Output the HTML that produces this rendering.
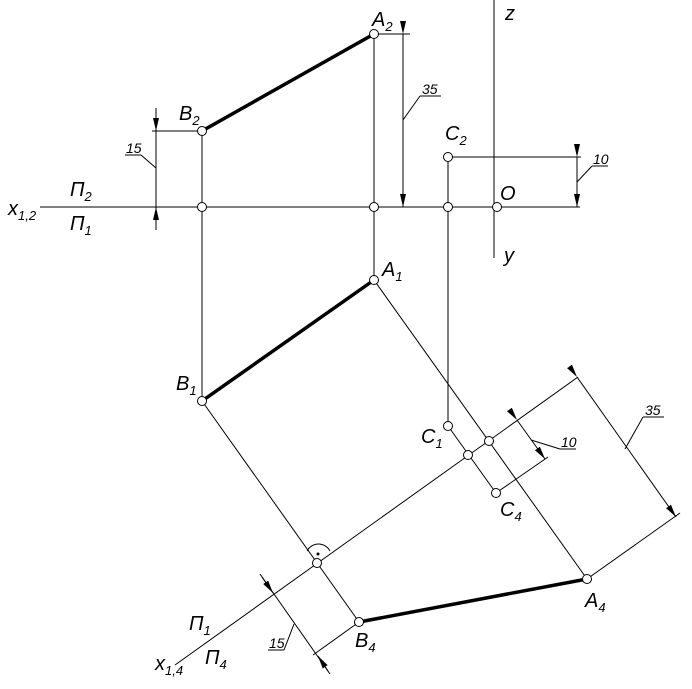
<!DOCTYPE html>
<html><head><meta charset="utf-8"><style>
html,body{margin:0;padding:0;background:#fff;}
svg{display:block;}
text{font-family:"Liberation Sans",sans-serif;font-style:italic;fill:#000;}
.l{font-size:20px;}
.s{font-size:13px;}
.d{font-size:14px;}
</style></head><body>
<svg width="692" height="689" viewBox="0 0 692 689" xmlns="http://www.w3.org/2000/svg">
<defs><marker id="a" markerWidth="13" markerHeight="6" refX="13" refY="3" orient="auto" markerUnits="userSpaceOnUse"><path d="M0,0 L13,3 L0,6 z" fill="#000"/></marker></defs>
<g stroke="#000" stroke-width="1" fill="none">
<line x1="40" y1="207" x2="580" y2="207"/>
<line x1="494" y1="0" x2="494" y2="258"/>
<line x1="202" y1="131" x2="202" y2="401"/>
<line x1="374" y1="34" x2="374" y2="280"/>
<line x1="448" y1="157" x2="448" y2="426"/>
<line x1="374" y1="34" x2="410" y2="34"/>
<line x1="152" y1="131" x2="202" y2="131"/>
<line x1="448" y1="157" x2="581" y2="157"/>
<line x1="403" y1="34" x2="403" y2="207" marker-start="url(#a)" marker-end="url(#a)"/>
<line x1="403" y1="120" x2="420" y2="96"/><line x1="420" y1="96" x2="441" y2="96"/>
<line x1="156" y1="108" x2="156" y2="131" marker-end="url(#a)"/>
<line x1="156" y1="230" x2="156" y2="207" marker-end="url(#a)"/>
<line x1="156" y1="131" x2="156" y2="207"/>
<line x1="156" y1="168" x2="141" y2="155"/><line x1="125" y1="155" x2="141" y2="155"/>
<line x1="577" y1="157" x2="577" y2="207" marker-start="url(#a)" marker-end="url(#a)"/>
<line x1="577" y1="182" x2="592" y2="166"/><line x1="592" y1="166" x2="608" y2="166"/>
<line x1="175" y1="665" x2="578" y2="377"/>
<line x1="202" y1="401" x2="359" y2="622"/>
<line x1="374" y1="280" x2="587" y2="579"/>
<line x1="448" y1="426" x2="496" y2="493"/>
<line x1="359" y1="622" x2="313" y2="655"/>
<line x1="496" y1="493" x2="548" y2="457"/>
<line x1="587" y1="579" x2="680" y2="513"/>
<line x1="260" y1="574" x2="330" y2="674"/>
<line x1="262" y1="577" x2="273" y2="593" marker-end="url(#a)"/>
<line x1="328" y1="671" x2="318" y2="656" marker-end="url(#a)"/>
<line x1="294" y1="624" x2="284" y2="650"/><line x1="268" y1="650" x2="284" y2="650"/>
<line x1="517" y1="420" x2="545" y2="459" marker-start="url(#a)" marker-end="url(#a)"/>
<line x1="531" y1="440" x2="560" y2="449"/><line x1="560" y1="449" x2="576" y2="449"/>
<line x1="577" y1="377" x2="676" y2="517" marker-start="url(#a)" marker-end="url(#a)"/>
<line x1="625" y1="449" x2="643" y2="417"/><line x1="643" y1="417" x2="664" y2="417"/>
<path d="M307,551 A13,13 0 0 1 330,551"/>
</g>
<circle cx="318" cy="554" r="1.5" fill="#000"/>
<g stroke="#000" stroke-width="3.5">
<line x1="202" y1="131" x2="374" y2="34"/>
<line x1="202" y1="401" x2="374" y2="280"/>
<line x1="359" y1="622" x2="587" y2="579"/>
</g>
<g stroke="#000" stroke-width="1" fill="#fff">
<circle cx="374" cy="34" r="4.5"/><circle cx="202" cy="131" r="4.5"/><circle cx="448" cy="157" r="4.5"/>
<circle cx="202" cy="207" r="4.5"/><circle cx="374" cy="207" r="4.5"/><circle cx="448" cy="207" r="4.5"/><circle cx="497" cy="207" r="4.5"/>
<circle cx="374" cy="280" r="4.5"/><circle cx="202" cy="401" r="4.5"/><circle cx="448" cy="426" r="4.5"/>
<circle cx="489" cy="441" r="4.5"/><circle cx="468" cy="455" r="4.5"/><circle cx="496" cy="493" r="4.5"/>
<circle cx="317" cy="563" r="4.5"/><circle cx="359" cy="622" r="4.5"/><circle cx="587" cy="579" r="4.5"/>
</g>
<text class="l" x="372" y="26">A<tspan class="s" dy="5">2</tspan></text>
<text class="l" x="179" y="120">B<tspan class="s" dy="5">2</tspan></text>
<text class="l" x="445" y="140">C<tspan class="s" dy="5">2</tspan></text>
<text class="l" x="500" y="200">O</text>
<text class="l" x="505" y="20">z</text>
<text class="l" x="504" y="262">y</text>
<text class="l" x="8" y="215">x<tspan class="s" dy="5">1,2</tspan></text>
<text class="l" x="70" y="196">П<tspan class="s" dy="5">2</tspan></text>
<text class="l" x="70" y="230">П<tspan class="s" dy="5">1</tspan></text>
<text class="l" x="382" y="276">A<tspan class="s" dy="5">1</tspan></text>
<text class="l" x="176" y="390">B<tspan class="s" dy="5">1</tspan></text>
<text class="l" x="421" y="443">C<tspan class="s" dy="5">1</tspan></text>
<text class="l" x="500" y="516">C<tspan class="s" dy="5">4</tspan></text>
<text class="l" x="585" y="607">A<tspan class="s" dy="5">4</tspan></text>
<text class="l" x="355" y="647">B<tspan class="s" dy="5">4</tspan></text>
<text class="l" x="189" y="630">П<tspan class="s" dy="5">1</tspan></text>
<text class="l" x="205" y="664">П<tspan class="s" dy="5">4</tspan></text>
<text class="l" x="155" y="670">x<tspan class="s" dy="5">1,4</tspan></text>
<text class="d" x="422" y="94">35</text>
<text class="d" x="126" y="153">15</text>
<text class="d" x="593" y="164">10</text>
<text class="d" x="269" y="648">15</text>
<text class="d" x="561" y="447">10</text>
<text class="d" x="645" y="415">35</text>
</svg>
</body></html>
